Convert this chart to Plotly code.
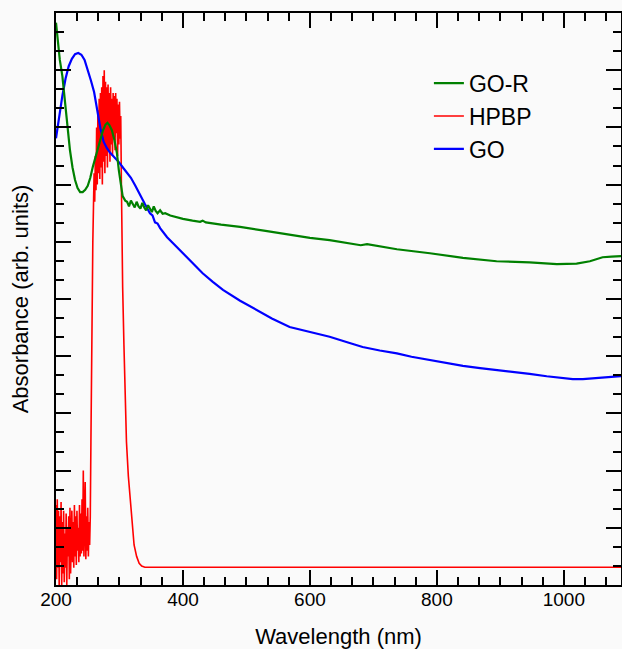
import plotly.graph_objects as go

# ---- data ----
go_wl = [200, 205, 210, 215, 220, 225, 230, 235, 240, 245, 250, 255, 260, 265, 270,
         275, 280, 285, 290, 296, 300, 306, 312, 318, 325, 332, 340, 348, 352, 356,
         360, 364, 375, 384, 400, 415, 431, 447, 463, 490, 516, 540, 568, 600, 631,
         660, 683, 710, 737, 760, 789, 815, 841, 868, 894, 920, 946, 973, 998, 1014,
         1030, 1045, 1061, 1075, 1090]
go_abs = [7.81, 8.20, 8.55, 8.85, 9.07, 9.20, 9.28, 9.30, 9.27, 9.18, 9.02, 8.82, 8.62, 8.30, 7.98,
          7.75, 7.64, 7.56, 7.50, 7.43, 7.38, 7.29, 7.20, 7.12, 6.98, 6.82, 6.66, 6.50, 6.46, 6.34,
          6.32, 6.24, 6.08, 5.98, 5.80, 5.62, 5.45, 5.30, 5.16, 4.97, 4.81, 4.66, 4.51, 4.42, 4.34,
          4.24, 4.16, 4.10, 4.05, 3.99, 3.93, 3.88, 3.83, 3.79, 3.76, 3.72, 3.69, 3.65, 3.62, 3.60,
          3.60, 3.61, 3.62, 3.63, 3.65]

gor_wl = [200, 203, 206, 210, 214, 218, 222, 226, 230, 234, 238, 242, 246, 250, 254,
          258, 262, 266, 270, 274, 278, 281, 284, 288, 292, 296, 299, 302, 305, 309,
          312, 315, 318, 321, 324, 327, 330, 333, 336, 339, 342, 345, 348, 351, 354,
          357, 360, 364, 368, 372, 380, 390, 400, 415, 427, 431, 436, 460, 490, 530,
          568, 600, 631, 660, 680, 690, 710, 737, 789, 841, 894, 946, 989, 1020, 1041,
          1061, 1075, 1090]
gor_abs = [9.83, 9.50, 9.18, 8.90, 8.48, 8.00, 7.60, 7.30, 7.08, 6.94, 6.87, 6.87, 6.91, 6.98, 7.12,
           7.31, 7.48, 7.65, 7.80, 7.95, 8.05, 8.08, 8.04, 7.95, 7.78, 7.55, 7.25, 7.00, 6.80, 6.72,
           6.70, 6.62, 6.72, 6.66, 6.60, 6.70, 6.62, 6.58, 6.68, 6.60, 6.55, 6.64, 6.57, 6.52, 6.62,
           6.54, 6.50, 6.55, 6.49, 6.50, 6.46, 6.43, 6.40, 6.37, 6.35, 6.37, 6.34, 6.30, 6.26, 6.19,
           6.12, 6.07, 6.03, 5.97, 5.94, 5.96, 5.92, 5.87, 5.80, 5.72, 5.66, 5.64, 5.61, 5.62, 5.66,
           5.73, 5.74, 5.75]

hpbp_wl = [200, 201, 202, 203, 204, 205, 206, 207, 208, 209, 210, 211, 212, 213, 214,
           215, 216, 217, 218, 219, 220, 221, 222, 223, 224, 225, 226, 227, 228, 229,
           230, 231, 232, 233, 234, 235, 236, 237, 238, 239, 240, 241, 242, 243, 244,
           245, 246, 247, 248, 249, 250, 251, 252, 253, 254, 255, 256, 257, 258, 259,
           260, 261, 262, 263, 264, 265, 266, 267, 268, 269, 270, 271, 272, 273, 274,
           275, 276, 277, 278, 279, 280, 281, 282, 283, 284, 285, 286, 287, 288, 289,
           290, 291, 292, 293, 294, 295, 296, 297, 298, 299, 300, 301, 302, 303, 304,
           305, 307, 309, 311, 314, 317, 320, 323, 327, 331, 335, 340, 400, 600, 900,
           950, 990, 1000, 1090]
hpbp_abs = [1.40, 0.10, 1.50, 0.30, 1.30, 0.00, 1.20, 0.40, 1.45, 0.00, 1.10, 0.20, 1.30, 0.05, 0.90,
            0.30, 1.25, 0.00, 1.00, 0.50, 1.20, 0.10, 1.35, 0.20, 0.80, 1.30, 0.40, 1.10, 0.30, 1.40,
            0.50, 1.20, 0.35, 1.30, 0.60, 1.00, 0.40, 1.40, 0.50, 1.25, 0.55, 1.50, 0.60, 2.00, 0.50,
            1.30, 1.80, 0.45, 1.20, 0.60, 1.35, 0.50, 1.10, 0.70, 1.20, 2.50, 4.00, 5.30, 6.00, 6.60,
            7.20, 6.70, 7.50, 6.90, 8.00, 7.00, 8.30, 7.20, 8.50, 7.10, 8.60, 7.30, 8.70, 7.00, 8.90,
            7.40, 9.00, 7.20, 8.80, 7.50, 8.70, 7.30, 8.75, 7.60, 8.60, 7.40, 8.70, 7.70, 8.50, 7.50,
            8.60, 7.80, 8.55, 7.60, 8.60, 7.90, 8.50, 7.50, 8.40, 7.70, 8.45, 7.80, 8.20, 7.00, 6.00,
            5.20, 4.20, 3.00, 2.50, 1.90, 1.45, 1.00, 0.70, 0.50, 0.38, 0.33, 0.31, 0.31, 0.31, 0.31,
            0.30, 0.30, 0.31, 0.31]

x_range = [200, 1090]
y_range = [0, 10]

fig = go.Figure()
fig.add_trace(go.Scatter(x=hpbp_wl, y=hpbp_abs, mode="lines", name="HPBP",
                         line=dict(color="#ff0000", width=1.6), legendrank=2, legendgroup="b"))
fig.add_trace(go.Scatter(x=go_wl, y=go_abs, mode="lines", name="GO",
                         line=dict(color="#0000ff", width=2.2), legendrank=3, legendgroup="c"))
fig.add_trace(go.Scatter(x=gor_wl, y=gor_abs, mode="lines", name="GO-R",
                         line=dict(color="#008000", width=2.2), legendrank=1, legendgroup="a"))

font_family = "Liberation Sans, Arial, sans-serif"
fig.update_layout(
    width=622, height=649,
    margin=dict(l=56, r=1, t=13, b=64),
    paper_bgcolor="#fafafa", plot_bgcolor="#fafafa",
    font=dict(family=font_family, color="black"),
    showlegend=True,
    legend=dict(x=0.66, y=0.915, xanchor="left", yanchor="top",
                bgcolor="rgba(0,0,0,0)", font=dict(size=23), tracegroupgap=2,
                traceorder="normal"),
    xaxis=dict(range=x_range, dtick=200, tick0=200, ticks="inside", ticklen=15, tickwidth=2,
               tickcolor="black", showline=True, linecolor="black", linewidth=2, mirror="ticks",
               showgrid=False, zeroline=False, tickfont=dict(size=19), automargin=False,
               ticklabelstandoff=-4,
               minor=dict(dtick=200/6, ticks="inside", ticklen=8, tickwidth=2, tickcolor="black",
                          showgrid=False),
               title=dict(text="Wavelength (nm)", font=dict(size=22), standoff=20)),
    yaxis=dict(range=y_range, dtick=1, tick0=0, ticks="inside", ticklen=15, tickwidth=2,
               tickcolor="black", showline=True, linecolor="black", linewidth=2, mirror="ticks",
               showgrid=False, zeroline=False, showticklabels=False, automargin=False,
               minor=dict(dtick=1/3, ticks="inside", ticklen=8, tickwidth=2, tickcolor="black",
                          showgrid=False),
               title=dict(text="Absorbance (arb. units)", font=dict(size=22), standoff=19)),
)

fig.write_html("out.html", config={"displayModeBar": False},
               post_script="document.body.style.margin='0px';document.body.style.background='#fafafa';")
